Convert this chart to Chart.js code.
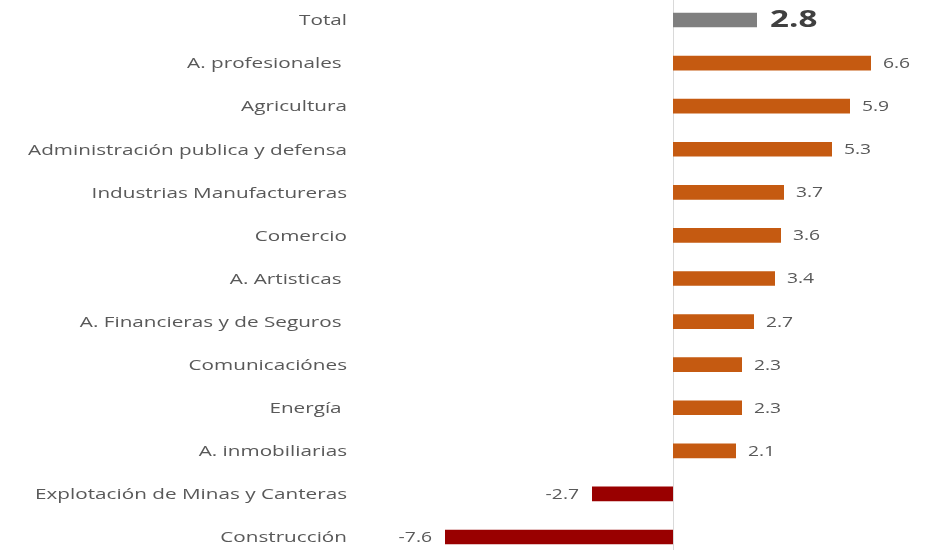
<!DOCTYPE html>
<html>
<head>
<meta charset="utf-8">
<style>
  html, body { margin: 0; padding: 0; background: #ffffff; }
  #wrap { width: 943px; height: 550px; position: relative; }
</style>
</head>
<body>
<div id="wrap"><canvas id="chart"></canvas></div>
<script src="https://cdn.jsdelivr.net/npm/chart.js@4.4.0/dist/chart.umd.min.js"></script>
<script>
// categories as they appear top to bottom (trailing spaces kept from the source labels)
const categories = [
  'Total',
  'A. profesionales ',
  'Agricultura',
  'Administración publica y defensa',
  'Industrias Manufactureras',
  'Comercio',
  'A. Artisticas ',
  'A. Financieras y de Seguros ',
  'Comunicaciónes',
  'Energía ',
  'A. inmobiliarias',
  'Explotación de Minas y Canteras',
  'Construcción'
];
const values = [2.8, 6.6, 5.9, 5.3, 3.7, 3.6, 3.4, 2.7, 2.3, 2.3, 2.1, -2.7, -7.6];

const TOTAL_COLOR = '#7f7f7f';
const POS_COLOR = '#c55a11';
const NEG_COLOR = '#990000';
const TEXT_COLOR = '#595959';
const FONT = '"Open Sans", "DejaVu Sans", sans-serif';
// the source picture is stretched sideways, so all text is drawn wider than tall
const STRETCH = 1.38;

const barColors = values.map((v, i) => i === 0 ? TOTAL_COLOR : (v < 0 ? NEG_COLOR : POS_COLOR));

function wideText(ctx, txt, x, y, align) {
  ctx.save();
  ctx.translate(x, y);
  ctx.scale(STRETCH, 1);
  ctx.textAlign = align;
  ctx.textBaseline = 'middle';
  ctx.fillText(txt, 0, 0);
  ctx.restore();
}

// zero line, category names and value labels
const extrasPlugin = {
  id: 'extras',
  beforeDatasetsDraw(chart) {
    const ctx = chart.ctx;
    const x0 = Math.round(chart.scales.x.getPixelForValue(0)) + 0.5;
    ctx.save();
    ctx.strokeStyle = '#d9d9d9';
    ctx.lineWidth = 1;
    ctx.beginPath();
    ctx.moveTo(x0, 0);
    ctx.lineTo(x0, chart.height);
    ctx.stroke();
    ctx.restore();
  },
  afterDatasetsDraw(chart) {
    const ctx = chart.ctx;
    const yScale = chart.scales.y;
    const meta = chart.getDatasetMeta(0);

    ctx.save();
    ctx.font = '15px ' + FONT;
    ctx.fillStyle = TEXT_COLOR;
    chart.data.labels.forEach((lab, i) => {
      wideText(ctx, lab, yScale.right - 11, yScale.getPixelForTick(i) + 1, 'right');
    });

    meta.data.forEach((bar, i) => {
      const v = values[i];
      const txt = v.toFixed(1);
      if (i === 0) {
        ctx.font = 'bold 24px ' + FONT;
        ctx.fillStyle = '#404040';
        wideText(ctx, txt, bar.x + 13, bar.y, 'left');
      } else {
        ctx.font = '14px ' + FONT;
        ctx.fillStyle = TEXT_COLOR;
        wideText(ctx, txt, v < 0 ? bar.x - 13 : bar.x + 12, bar.y + 1, v < 0 ? 'right' : 'left');
      }
    });
    ctx.restore();
  }
};

new Chart(document.getElementById('chart'), {
  type: 'bar',
  data: {
    labels: categories,
    datasets: [{
      data: values,
      backgroundColor: barColors,
      borderWidth: 0,
      barPercentage: 0.34,
      categoryPercentage: 1,
      clip: false
    }]
  },
  options: {
    indexAxis: 'y',
    responsive: true,
    maintainAspectRatio: false,
    animation: false,
    layout: { padding: { top: 20, bottom: 13, right: 15, left: 0 } },
    plugins: {
      legend: { display: false },
      tooltip: { enabled: false }
    },
    scales: {
      x: {
        min: -10.5,
        max: 8.5,
        display: false
      },
      y: {
        offset: false,
        grid: { display: false, drawTicks: false },
        border: { display: false },
        ticks: { display: false },
        afterFit(scale) { scale.width = 358; }
      }
    }
  },
  plugins: [extrasPlugin]
});
</script>
</body>
</html>
